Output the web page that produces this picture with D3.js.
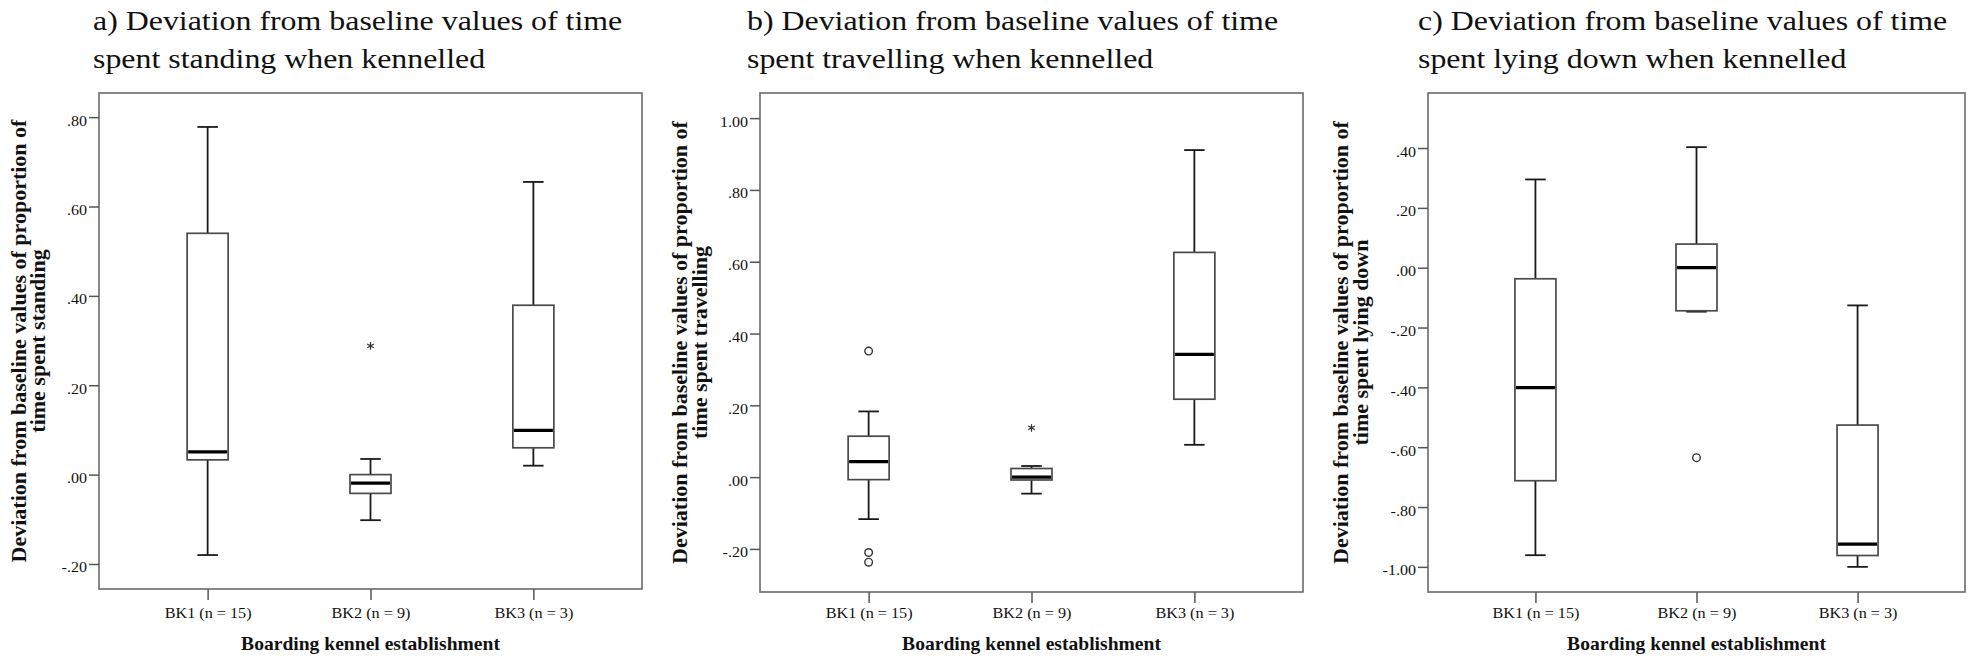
<!DOCTYPE html>
<html><head><meta charset="utf-8">
<script src="https://cdn.jsdelivr.net/npm/d3@7"></script>
<style>
html,body{margin:0;padding:0;background:#fff;}
svg{display:block;}
text{font-family:"Liberation Serif","Times New Roman",serif;fill:#111;}
</style></head>
<body>
<svg id="chart" width="1971" height="658"></svg>
<script>
// ---------- data ----------
const categories = ["BK1 (n = 15)", "BK2 (n = 9)", "BK3 (n = 3)"];
const xAxisTitle = "Boarding kennel establishment";

// five-number rows per category: [whiskerLow, Q1, median, Q3, whiskerHigh]
const standingBoxes = [
  [-0.180, 0.033, 0.051, 0.540, 0.778],
  [-0.102, -0.042, -0.019, 0.000, 0.035],
  [0.020, 0.060, 0.099, 0.379, 0.655]
];
const standingOutliers = [ {cat: 1, value: 0.288, kind: "extreme"} ];
const standingTicks = [-0.2, 0, 0.2, 0.4, 0.6, 0.8];
const standingDomain = [-0.256, 0.854];

const travellingBoxes = [
  [-0.117, -0.007, 0.043, 0.114, 0.183],
  [-0.046, -0.008, 0.000, 0.024, 0.031],
  [0.090, 0.217, 0.342, 0.626, 0.911]
];
const travellingOutliers = [
  {cat: 0, value: 0.351, kind: "outlier"},
  {cat: 0, value: -0.210, kind: "outlier"},
  {cat: 0, value: -0.237, kind: "outlier"},
  {cat: 1, value: 0.137, kind: "extreme"}
];
const travellingTicks = [-0.2, 0, 0.2, 0.4, 0.6, 0.8, 1.0];
const travellingDomain = [-0.320, 1.070];

const lyingBoxes = [
  [-0.961, -0.712, -0.401, -0.037, 0.295],
  [-0.147, -0.144, 0.000, 0.079, 0.403],
  [-1.000, -0.962, -0.924, -0.526, -0.126]
];
const lyingOutliers = [ {cat: 1, value: -0.635, kind: "outlier"} ];
const lyingTicks = [-1.0, -0.8, -0.6, -0.4, -0.2, 0, 0.2, 0.4];
const lyingDomain = [-1.084, 0.584];

const panelTitles = [
  ["a) Deviation from baseline values of time", "spent standing when kennelled"],
  ["b) Deviation from baseline values of time", "spent travelling when kennelled"],
  ["c) Deviation from baseline values of time", "spent lying down when kennelled"]
];
const yTitles = [
  ["Deviation from baseline values of proportion of", "time spent standing"],
  ["Deviation from baseline values of proportion of", "time spent travelling"],
  ["Deviation from baseline values of proportion of", "time spent lying down"]
];

// ---------- layout ----------
const panels = [
  {boxes: standingBoxes, outliers: standingOutliers, ticks: standingTicks, domain: standingDomain,
   left: 99, right: 642, top: 93, bottom: 589, titleX: 93, yTitleX: [26, 45]},
  {boxes: travellingBoxes, outliers: travellingOutliers, ticks: travellingTicks, domain: travellingDomain,
   left: 760, right: 1303, top: 93, bottom: 592, titleX: 747, yTitleX: [687, 707]},
  {boxes: lyingBoxes, outliers: lyingOutliers, ticks: lyingTicks, domain: lyingDomain,
   left: 1428, right: 1965, top: 93, bottom: 592, titleX: 1418, yTitleX: [1348, 1368]}
];

const svg = d3.select("#chart");
const fmt = v => {
  let s = d3.format(".2f")(v);
  return s.replace("−", "-").replace(/^(-?)0\./, "$1.");
};
const serif = "'Liberation Serif','Times New Roman',serif";

panels.forEach((p, i) => {
  const g = svg.append("g");
  const y = d3.scaleLinear().domain(p.domain).range([p.bottom, p.top]);
  const x = d3.scalePoint().domain(categories).range([p.left, p.right]).padding(0.667);
  const boxW = 41;

  // title
  const t = g.append("g").attr("transform", `translate(${p.titleX},0) scale(1.19,1)`);
  panelTitles[i].forEach((line, k) => {
    t.append("text").attr("x", 0).attr("y", k === 0 ? 30 : 68)
      .style("font-size", "26.8px").style("font-family", serif).text(line);
  });

  // frame
  g.append("rect").attr("x", p.left).attr("y", p.top)
    .attr("width", p.right - p.left).attr("height", p.bottom - p.top)
    .attr("fill", "none").attr("stroke", "#6a6a6a").attr("stroke-width", 1.6);

  // y axis
  const ya = g.append("g").attr("transform", `translate(${p.left},0)`)
    .call(d3.axisLeft(y).tickValues(p.ticks).tickFormat(fmt).tickSize(10).tickPadding(2));
  ya.select(".domain").remove();
  ya.selectAll(".tick line").attr("stroke", "#555").attr("stroke-width", 1.5);
  ya.selectAll(".tick text").attr("x", null).attr("dy", null)
    .attr("transform", "translate(-12,8) scale(1.07,1)")
    .style("font-size", "15px").style("font-family", serif).attr("fill", "#222");

  // x axis
  const xa = g.append("g").attr("transform", `translate(0,${p.bottom})`)
    .call(d3.axisBottom(x).tickSize(11).tickPadding(3));
  xa.select(".domain").remove();
  xa.selectAll(".tick line").attr("stroke", "#555").attr("stroke-width", 1.5);
  xa.selectAll(".tick text").attr("y", null).attr("dy", null)
    .attr("transform", `translate(0,${618 - p.bottom}) scale(1.08,1)`)
    .style("font-size", "15px").style("font-family", serif).attr("fill", "#222");

  // x title
  g.append("text")
    .attr("transform", `translate(${(p.left + p.right) / 2},650) scale(1.1,1)`)
    .attr("text-anchor", "middle").style("font-size", "17.8px").style("font-weight", "bold")
    .style("font-family", serif).text(xAxisTitle);

  // y title
  const cy = (p.top + p.bottom) / 2;
  yTitles[i].forEach((line, k) => {
    g.append("text")
      .attr("transform", `translate(${p.yTitleX[k]},${cy}) rotate(-90)`)
      .attr("text-anchor", "middle").style("font-size", "22px").style("font-weight", "bold")
      .style("font-family", serif).text(line);
  });

  // boxes
  p.boxes.forEach((b, c) => {
    const cx = x(categories[c]);
    const [lo, q1, med, q3, hi] = b;
    const wk = g.append("g").attr("stroke", "#1a1a1a").attr("stroke-width", 1.8);
    wk.append("line").attr("x1", cx).attr("x2", cx).attr("y1", y(hi)).attr("y2", y(q3));
    wk.append("line").attr("x1", cx).attr("x2", cx).attr("y1", y(q1)).attr("y2", y(lo));
    wk.append("line").attr("x1", cx - boxW / 4).attr("x2", cx + boxW / 4).attr("y1", y(hi)).attr("y2", y(hi));
    wk.append("line").attr("x1", cx - boxW / 4).attr("x2", cx + boxW / 4).attr("y1", y(lo)).attr("y2", y(lo));
    g.append("rect").attr("x", cx - boxW / 2).attr("y", y(q3))
      .attr("width", boxW).attr("height", Math.max(0, y(q1) - y(q3)))
      .attr("fill", "#fff").attr("stroke", "#4a4a4a").attr("stroke-width", 1.7);
    g.append("line").attr("x1", cx - boxW / 2 + 1).attr("x2", cx + boxW / 2 - 1)
      .attr("y1", y(med)).attr("y2", y(med)).attr("stroke", "#000").attr("stroke-width", 3.3);
  });

  // outliers
  p.outliers.forEach(o => {
    const cx = x(categories[o.cat]);
    if (o.kind === "outlier") {
      g.append("circle").attr("cx", cx).attr("cy", y(o.value)).attr("r", 3.8)
        .attr("fill", "none").attr("stroke", "#333").attr("stroke-width", 1.4);
    } else {
      g.append("path").attr("transform", `translate(${cx},${y(o.value)})`)
        .attr("d", d3.symbol(d3.symbolAsterisk, 40)())
        .attr("fill", "none").attr("stroke", "#333").attr("stroke-width", 1.2);
    }
  });
});
</script>
</body></html>
